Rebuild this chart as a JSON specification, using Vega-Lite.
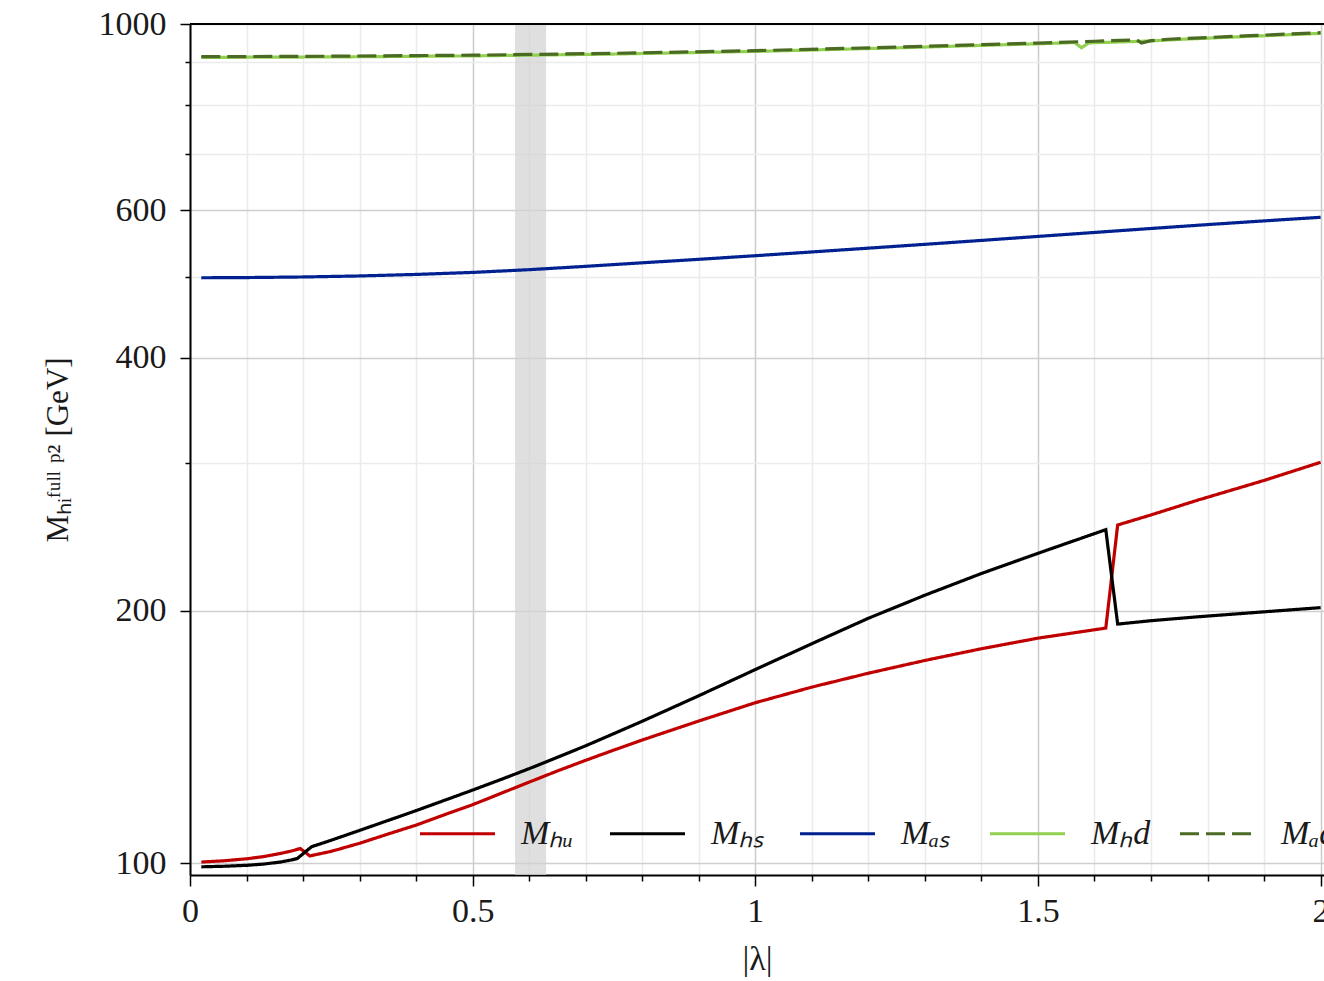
{
  "$schema": "https://vega.github.io/schema/vega-lite/v6.json",
  "width": 1134,
  "height": 851,
  "autosize": {"type": "none"},
  "padding": {"left": 190, "top": 24, "right": 0, "bottom": 106},
  "background": "white",
  "config": {"view": {"stroke": null}, "font": "Liberation Serif"},
  "datasets": {
    "band": [{"x0": 0.575, "x1": 0.63}],
    "curves": [
      {"lam": 0.02, "m": 100.3, "s": "Mₕᵤ"}, {"lam": 0.06, "m": 100.65, "s": "Mₕᵤ"}, {"lam": 0.1, "m": 101.2, "s": "Mₕᵤ"}, {"lam": 0.13, "m": 101.8, "s": "Mₕᵤ"}, {"lam": 0.16, "m": 102.7, "s": "Mₕᵤ"}, {"lam": 0.18, "m": 103.4, "s": "Mₕᵤ"}, {"lam": 0.195, "m": 104.1, "s": "Mₕᵤ"}, {"lam": 0.212, "m": 102.0, "s": "Mₕᵤ"}, {"lam": 0.25, "m": 103.3, "s": "Mₕᵤ"}, {"lam": 0.3, "m": 105.6, "s": "Mₕᵤ"}, {"lam": 0.35, "m": 108.3, "s": "Mₕᵤ"}, {"lam": 0.4, "m": 111.0, "s": "Mₕᵤ"}, {"lam": 0.45, "m": 114.2, "s": "Mₕᵤ"}, {"lam": 0.5, "m": 117.4, "s": "Mₕᵤ"}, {"lam": 0.55, "m": 121.1, "s": "Mₕᵤ"}, {"lam": 0.6, "m": 124.9, "s": "Mₕᵤ"}, {"lam": 0.65, "m": 128.8, "s": "Mₕᵤ"}, {"lam": 0.7, "m": 132.6, "s": "Mₕᵤ"}, {"lam": 0.75, "m": 136.4, "s": "Mₕᵤ"}, {"lam": 0.8, "m": 140.2, "s": "Mₕᵤ"}, {"lam": 0.9, "m": 147.7, "s": "Mₕᵤ"}, {"lam": 1.0, "m": 155.3, "s": "Mₕᵤ"}, {"lam": 1.1, "m": 162.1, "s": "Mₕᵤ"}, {"lam": 1.2, "m": 168.4, "s": "Mₕᵤ"}, {"lam": 1.3, "m": 174.4, "s": "Mₕᵤ"}, {"lam": 1.4, "m": 180.1, "s": "Mₕᵤ"}, {"lam": 1.5, "m": 185.4, "s": "Mₕᵤ"}, {"lam": 1.62, "m": 190.6, "s": "Mₕᵤ"}, {"lam": 1.641, "m": 252.9, "s": "Mₕᵤ"}, {"lam": 1.7, "m": 260.0, "s": "Mₕᵤ"}, {"lam": 1.783, "m": 270.8, "s": "Mₕᵤ"}, {"lam": 1.9, "m": 285.8, "s": "Mₕᵤ"}, {"lam": 2.0, "m": 300.4, "s": "Mₕᵤ"},
      {"lam": 0.02, "m": 99.0, "s": "Mₕₛ"}, {"lam": 0.06, "m": 99.15, "s": "Mₕₛ"}, {"lam": 0.1, "m": 99.4, "s": "Mₕₛ"}, {"lam": 0.13, "m": 99.75, "s": "Mₕₛ"}, {"lam": 0.16, "m": 100.3, "s": "Mₕₛ"}, {"lam": 0.18, "m": 100.9, "s": "Mₕₛ"}, {"lam": 0.19, "m": 101.3, "s": "Mₕₛ"}, {"lam": 0.215, "m": 104.6, "s": "Mₕₛ"}, {"lam": 0.25, "m": 106.5, "s": "Mₕₛ"}, {"lam": 0.3, "m": 109.4, "s": "Mₕₛ"}, {"lam": 0.35, "m": 112.4, "s": "Mₕₛ"}, {"lam": 0.4, "m": 115.5, "s": "Mₕₛ"}, {"lam": 0.45, "m": 118.8, "s": "Mₕₛ"}, {"lam": 0.5, "m": 122.2, "s": "Mₕₛ"}, {"lam": 0.55, "m": 125.8, "s": "Mₕₛ"}, {"lam": 0.6, "m": 129.6, "s": "Mₕₛ"}, {"lam": 0.65, "m": 133.7, "s": "Mₕₛ"}, {"lam": 0.7, "m": 138.0, "s": "Mₕₛ"}, {"lam": 0.75, "m": 142.7, "s": "Mₕₛ"}, {"lam": 0.8, "m": 147.6, "s": "Mₕₛ"}, {"lam": 0.9, "m": 158.3, "s": "Mₕₛ"}, {"lam": 1.0, "m": 170.1, "s": "Mₕₛ"}, {"lam": 1.1, "m": 182.6, "s": "Mₕₛ"}, {"lam": 1.2, "m": 195.8, "s": "Mₕₛ"}, {"lam": 1.3, "m": 208.6, "s": "Mₕₛ"}, {"lam": 1.4, "m": 221.4, "s": "Mₕₛ"}, {"lam": 1.5, "m": 234.0, "s": "Mₕₛ"}, {"lam": 1.62, "m": 249.7, "s": "Mₕₛ"}, {"lam": 1.641, "m": 192.7, "s": "Mₕₛ"}, {"lam": 1.7, "m": 194.5, "s": "Mₕₛ"}, {"lam": 1.783, "m": 196.6, "s": "Mₕₛ"}, {"lam": 1.9, "m": 199.3, "s": "Mₕₛ"}, {"lam": 2.0, "m": 201.6, "s": "Mₕₛ"},
      {"lam": 0.02, "m": 498.4, "s": "Mₐₛ"}, {"lam": 0.1, "m": 498.7, "s": "Mₐₛ"}, {"lam": 0.2, "m": 499.5, "s": "Mₐₛ"}, {"lam": 0.3, "m": 500.9, "s": "Mₐₛ"}, {"lam": 0.4, "m": 503.0, "s": "Mₐₛ"}, {"lam": 0.5, "m": 505.8, "s": "Mₐₛ"}, {"lam": 0.6, "m": 509.6, "s": "Mₐₛ"}, {"lam": 0.7, "m": 514.3, "s": "Mₐₛ"}, {"lam": 0.8, "m": 519.3, "s": "Mₐₛ"}, {"lam": 0.9, "m": 524.3, "s": "Mₐₛ"}, {"lam": 1.0, "m": 529.5, "s": "Mₐₛ"}, {"lam": 1.1, "m": 535.0, "s": "Mₐₛ"}, {"lam": 1.2, "m": 540.6, "s": "Mₐₛ"}, {"lam": 1.3, "m": 546.3, "s": "Mₐₛ"}, {"lam": 1.4, "m": 552.2, "s": "Mₐₛ"}, {"lam": 1.5, "m": 558.3, "s": "Mₐₛ"}, {"lam": 1.6, "m": 564.4, "s": "Mₐₛ"}, {"lam": 1.7, "m": 570.6, "s": "Mₐₛ"}, {"lam": 1.8, "m": 576.7, "s": "Mₐₛ"}, {"lam": 1.9, "m": 582.6, "s": "Mₐₛ"}, {"lam": 2.0, "m": 588.4, "s": "Mₐₛ"},
      {"lam": 0.02, "m": 912.5, "s": "Mₕd"}, {"lam": 0.25, "m": 913.6, "s": "Mₕd"}, {"lam": 0.5, "m": 916.2, "s": "Mₕd"}, {"lam": 0.75, "m": 920.9, "s": "Mₕd"}, {"lam": 1.0, "m": 927.6, "s": "Mₕd"}, {"lam": 1.25, "m": 936.7, "s": "Mₕd"}, {"lam": 1.5, "m": 947.2, "s": "Mₕd"}, {"lam": 1.565, "m": 950.3, "s": "Mₕd"}, {"lam": 1.577, "m": 937.0, "s": "Mₕd"}, {"lam": 1.59, "m": 949.5, "s": "Mₕd"}, {"lam": 1.68, "m": 953.5, "s": "Mₕd"}, {"lam": 1.7, "m": 954.5, "s": "Mₕd"}, {"lam": 1.75, "m": 958.7, "s": "Mₕd"}, {"lam": 1.875, "m": 966.7, "s": "Mₕd"}, {"lam": 2.0, "m": 974.6, "s": "Mₕd"},
      {"lam": 0.02, "m": 914.2, "s": "Mₐd"}, {"lam": 0.25, "m": 915.4, "s": "Mₐd"}, {"lam": 0.5, "m": 918.0, "s": "Mₐd"}, {"lam": 0.75, "m": 922.7, "s": "Mₐd"}, {"lam": 1.0, "m": 929.4, "s": "Mₐd"}, {"lam": 1.25, "m": 938.5, "s": "Mₐd"}, {"lam": 1.5, "m": 949.0, "s": "Mₐd"}, {"lam": 1.6, "m": 953.8, "s": "Mₐd"}, {"lam": 1.675, "m": 957.5, "s": "Mₐd"}, {"lam": 1.683, "m": 949.0, "s": "Mₐd"}, {"lam": 1.7, "m": 955.5, "s": "Mₐd"}, {"lam": 1.73, "m": 959.0, "s": "Mₐd"}, {"lam": 1.875, "m": 968.5, "s": "Mₐd"}, {"lam": 2.0, "m": 976.4, "s": "Mₐd"}
    ]
  },
  "layer": [
    {
      "data": {"name": "band"},
      "mark": {"type": "rect", "color": "#d2d2d2", "opacity": 0.7},
      "encoding": {
        "x": {"field": "x0", "type": "quantitative", "scale": {"domain": [0, 2.006], "nice": false, "zero": false},
          "axis": {"values": [0,0.1,0.2,0.3,0.4,0.5,0.6,0.7,0.8,0.9,1,1.1,1.2,1.3,1.4,1.5,1.6,1.7,1.8,1.9,2],
            "labelExpr": "datum.value % 0.5 === 0 ? format(datum.value, '~g') : ''",
            "tickSize": {"condition": {"test": "datum.value % 0.5 === 0", "value": 11}, "value": 6},
            "gridColor": {"condition": {"test": "datum.value % 0.5 === 0", "value": "#cccccc"}, "value": "#ebebeb"},
            "grid": true, "gridWidth": 1.5, "domainColor": "black", "domainWidth": 2, "tickColor": "black", "tickWidth": 1.5,
            "labelFont": "Liberation Serif", "labelFontSize": 34, "labelColor": "#1a1a1a", "labelPadding": 8, "labelFlush": false, "labelOverlap": false,
            "title": "|λ|", "titleFont": "Liberation Serif", "titleFontSize": 34, "titleFontWeight": "normal", "titleColor": "#1a1a1a", "titlePadding": 14}},
        "x2": {"field": "x1"}
      }
    },
    {
      "data": {"name": "curves"},
      "mark": {"type": "line", "strokeWidth": 3.2, "clip": true},
      "encoding": {
        "x": {"field": "lam", "type": "quantitative",
          "axis": {"values": [0,0.1,0.2,0.3,0.4,0.5,0.6,0.7,0.8,0.9,1,1.1,1.2,1.3,1.4,1.5,1.6,1.7,1.8,1.9,2],
            "labelExpr": "datum.value % 0.5 === 0 ? format(datum.value, '~g') : ''",
            "tickSize": {"condition": {"test": "datum.value % 0.5 === 0", "value": 11}, "value": 6},
            "gridColor": {"condition": {"test": "datum.value % 0.5 === 0", "value": "#cccccc"}, "value": "#ebebeb"},
            "grid": true, "gridWidth": 1.5, "domainColor": "black", "domainWidth": 2, "tickColor": "black", "tickWidth": 1.5,
            "labelFont": "Liberation Serif", "labelFontSize": 34, "labelColor": "#1a1a1a", "labelPadding": 8, "labelFlush": false, "labelOverlap": false,
            "title": "|λ|", "titleFont": "Liberation Serif", "titleFontSize": 34, "titleFontWeight": "normal", "titleColor": "#1a1a1a", "titlePadding": 14}},
        "y": {"field": "m", "type": "quantitative", "scale": {"type": "log", "domain": [96.8, 1000], "nice": false},
          "axis": {"values": [100,200,300,400,500,600,700,800,900,1000],
            "labelExpr": "indexof([100,200,400,600,1000], datum.value) >= 0 ? format(datum.value, 'd') : ''",
            "tickSize": {"condition": {"test": "indexof([100,200,400,600,1000], datum.value) >= 0", "value": 10}, "value": 5},
            "gridColor": {"condition": {"test": "indexof([100,200,400,600,1000], datum.value) >= 0", "value": "#cfcfcf"}, "value": "#ececec"},
            "grid": true, "gridWidth": 1.5, "domainColor": "black", "domainWidth": 2, "tickColor": "black", "tickWidth": 1.5,
            "labelFont": "Liberation Serif", "labelFontSize": 34, "labelColor": "#1a1a1a", "labelPadding": 14, "labelFlush": false, "labelOverlap": false,
            "title": "Mₕᵢᶠᵘˡˡ ᵖ²  [GeV]", "titleFont": "Liberation Serif", "titleFontSize": 31, "titleFontWeight": "normal", "titleColor": "#1a1a1a", "titlePadding": 24}},
        "color": {"field": "s", "type": "nominal",
          "scale": {"domain": ["Mₕᵤ", "Mₕₛ", "Mₐₛ", "Mₕd", "Mₐd"], "range": ["#c00000", "#000000", "#00218f", "#92d050", "#4b6b24"]},
          "legend": {"orient": "none", "legendX": 228, "legendY": 770, "direction": "horizontal", "columns": 5, "title": null,
            "symbolType": "stroke", "symbolSize": 5625, "symbolStrokeWidth": 3.2, "labelFont": "Liberation Serif", "labelFontStyle": "italic",
            "labelFontSize": 34, "labelColor": "#1a1a1a", "labelOffset": 24, "columnPadding": 22, "gridAlign": "all", "padding": 0, "labelLimit": 300}},
        "strokeDash": {"field": "s", "type": "nominal",
          "scale": {"domain": ["Mₕᵤ", "Mₕₛ", "Mₐₛ", "Mₕd", "Mₐd"], "range": [[1, 0], [1, 0], [1, 0], [1, 0], [19, 7]]},
          "legend": {"orient": "none", "legendX": 228, "legendY": 770, "direction": "horizontal", "columns": 5, "title": null,
            "symbolType": "stroke", "symbolSize": 5625, "symbolStrokeWidth": 3.2, "labelFont": "Liberation Serif", "labelFontStyle": "italic",
            "labelFontSize": 34, "labelColor": "#1a1a1a", "labelOffset": 24, "columnPadding": 22, "gridAlign": "all", "padding": 0, "labelLimit": 300}}
      }
    },
    {
      "data": {"values": [{}]},
      "mark": {"type": "rule", "color": "black", "strokeWidth": 2},
      "encoding": {"y": {"datum": 1000}}
    }
  ]
}
